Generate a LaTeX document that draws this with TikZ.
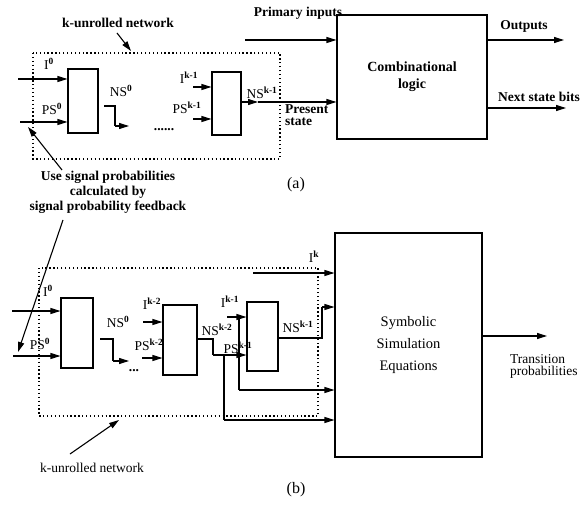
\documentclass[tikz,border=0pt]{standalone}
\usepackage{fontspec}
\setmainfont{Liberation Serif}
\usetikzlibrary{arrows.meta,calc}
\newcommand{\spr}[1]{\textsuperscript{\bfseries #1}}
\begin{document}
\begin{tikzpicture}[x=1pt,y=-1pt,
  every node/.style={font=\fontsize{13.5}{15}\selectfont, inner sep=0pt},
  blk/.style={draw, line width=1.1pt, minimum width=#1, inner sep=0pt},
  arr/.style={line width=1.1pt, -{Triangle[length=10pt,width=6pt]}},
  wire/.style={line width=1.1pt},
  dotbox/.style={line width=1.3pt, dash pattern=on 1.3pt off 2.6pt},
  lbl/.style={anchor=center},
  capstyle/.style={anchor=center, font=\fontsize{16}{18}\selectfont},
  blbl/.style={anchor=center, font=\fontsize{13.5}{15}\selectfont\bfseries, align=center}
]
\useasboundingbox (0,0) rectangle (586,505);

% ================= (a) =================
\draw[dotbox] (33,53) rectangle (280,159);
\node[blk=30pt, minimum height=64pt] (blkA1) at (83,101) {};
\node[blk=29pt, minimum height=63pt] (blkAk) at (226.5,103.5) {};
\node[blk=150pt, minimum height=124pt, align=center, font=\fontsize{14}{17}\selectfont\bfseries] (combA) at (412,77) {Combinational\\logic};

\coordinate (inI0a) at (18,79);
\coordinate (inPS0a) at (20,122);
\draw[arr] (inI0a) -- (inI0a -| blkA1.west);
\draw[arr] (inPS0a) -- (inPS0a -| blkA1.west);
\node[lbl] (lI0a) at (49,64) {I\spr{0}};
\node[lbl] (lPS0a) at (52,109) {PS\spr{0}};

\coordinate (ns0a1) at (104,106);
\coordinate (ns0a2) at (115,106);
\coordinate (ns0a3) at (115,126);
\coordinate (ns0a4) at (129,126);
\draw[wire] (ns0a1) -- (ns0a2) -- (ns0a3);
\draw[arr] (ns0a3) -- (ns0a4);
\node[lbl] (lNS0a) at (121,91) {NS\spr{0}};
\node[lbl] (dotsA) at (164,130) {\bfseries ......};

\coordinate (inIka) at (193,87);
\coordinate (inPSka) at (193,119);
\draw[arr] (inIka) -- (inIka -| blkAk.west);
\draw[arr] (inPSka) -- (inPSka -| blkAk.west);
\node[lbl] (lIka) at (189,78) {I\spr{k-1}};
\node[lbl] (lPSka) at (187,108) {PS\spr{k-1}};

\coordinate (nska) at (241,102);
\coordinate (nskm) at (258,102);
\draw[arr] (nska) -- (nskm);
\draw[arr] (nskm) -- (nskm -| combA.west);
\node[lbl] (lNSka) at (262,93) {NS\spr{k-1}};
\node[anchor=north west, align=left, font=\fontsize{13.5}{12}\selectfont\bfseries] (lPres) at (285,104) {Present\\state};

\coordinate (pinA) at (245,40);
\draw[arr] (pinA) -- (pinA -| combA.west);
\node[blbl] (lPI) at (298,13) {Primary inputs};

\coordinate (outA) at (564,40);
\draw[arr] (outA -| combA.east) -- (outA);
\node[blbl] (lOut) at (524,26) {Outputs};
\coordinate (nsbA) at (566,108);
\draw[arr] (nsbA -| combA.east) -- (nsbA);
\node[blbl] (lNSB) at (539,97) {Next state bits};

\node[blbl] (lKA) at (118,23) {k-unrolled network};
\coordinate (kaS) at (117,33);
\coordinate (kaE) at (131,51);
\draw[arr] (kaS) -- (kaE);

\node[blbl, font=\fontsize{13.5}{15}\selectfont\bfseries] (lFB) at (108,192) {Use signal probabilities\\calculated by\\signal probability feedback};
\coordinate (fbA1) at (62,170);
\coordinate (fbA2) at (28,127);
\draw[arr] (fbA1) -- (fbA2);
\coordinate (fbB1) at (63,220);
\coordinate (fbB2) at (18,352);
\draw[arr] (fbB1) -- (fbB2);

\node[capstyle] (capA) at (296,185) {(a)};

% ================= (b) =================
\draw[dotbox] (39,268) rectangle (318,416);
\node[blk=32pt, minimum height=70pt] (blkB1) at (77,333) {};
\node[blk=34pt, minimum height=70pt] (blkB2) at (180,340) {};
\node[blk=31pt, minimum height=69pt] (blkB3) at (262.5,336.5) {};
\node[blk=147pt, minimum height=224pt, align=center, font=\fontsize{14.5}{22}\selectfont] (symB) at (408.5,345) {Symbolic\\Simulation\\Equations};

\coordinate (inI0b) at (12,311);
\coordinate (inPS0b) at (13,356);
\draw[arr] (inI0b) -- (inI0b -| blkB1.west);
\draw[arr] (inPS0b) -- (inPS0b -| blkB1.west);
\node[lbl] (lI0b) at (48,291) {I\spr{0}};
\node[lbl] (lPS0b) at (40,344) {PS\spr{0}};

\coordinate (ns0b1) at (100,339);
\coordinate (ns0b2) at (113,339);
\coordinate (ns0b3) at (113,361);
\coordinate (ns0b4) at (129,361);
\draw[wire] (ns0b1) -- (ns0b2) -- (ns0b3);
\draw[arr] (ns0b3) -- (ns0b4);
\node[lbl] (lNS0b) at (118,322) {NS\spr{0}};
\node[lbl] (dotsB) at (134,371) {\bfseries ...};

\coordinate (inIk2) at (143,322);
\coordinate (inPSk2) at (142,358);
\draw[arr] (inIk2) -- (inIk2 -| blkB2.west);
\draw[arr] (inPSk2) -- (inPSk2 -| blkB2.west);
\node[lbl] (lIk2) at (152,304) {I\spr{k-2}};
\node[lbl] (lPSk2) at (149,345) {PS\spr{k-2}};

\coordinate (nsk2a) at (197,339);
\coordinate (nsk2b) at (213,339);
\coordinate (nsk2c) at (213,355);
\coordinate (nsk2j) at (224,355);
\draw[wire] (nsk2a) -- (nsk2b) -- (nsk2c);
\draw[arr] (nsk2c) -- (nsk2c -| blkB3.west);
\coordinate (nsk2d) at (224,420);
\draw[wire] (nsk2j) -- (nsk2d);
\draw[arr] (nsk2d) -- (nsk2d -| symB.west);
\node[lbl] (lNSk2) at (217,330) {NS\spr{k-2}};
\node[lbl] (lPSk1) at (238,348) {PS\spr{k-1}};

\coordinate (inIk1) at (227,317);
\coordinate (ik1j) at (239,317);
\draw[arr] (inIk1) -- (inIk1 -| blkB3.west);
\coordinate (ik1d) at (239,390);
\draw[wire] (ik1j) -- (ik1d);
\draw[arr] (ik1d) -- (ik1d -| symB.west);
\node[lbl] (lIk1) at (230,302) {I\spr{k-1}};

\coordinate (nsk1a) at (278,338);
\coordinate (nsk1b) at (322,338);
\coordinate (nsk1c) at (322,307);
\draw[wire] (nsk1a) -- (nsk1b) -- (nsk1c);
\draw[arr] (nsk1c) -- (nsk1c -| symB.west);
\node[lbl] (lNSk1) at (298,327) {NS\spr{k-1}};

\coordinate (inIk) at (253,273);
\draw[arr] (inIk) -- (inIk -| symB.west);
\node[lbl] (lIk) at (314,257) {I\spr{k}};

\coordinate (trB) at (547,336);
\draw[arr] (trB -| symB.east) -- (trB);
\node[anchor=north west, align=left, font=\fontsize{13.5}{12}\selectfont] (lTr) at (510,354) {Transition\\probabilities};

\node[lbl] (lKB) at (92,468) {k-unrolled network};
\coordinate (kbS) at (70,454);
\coordinate (kbE) at (119,420);
\draw[arr] (kbS) -- (kbE);

\node[capstyle] (capB) at (296,490) {(b)};
\end{tikzpicture}
\end{document}
